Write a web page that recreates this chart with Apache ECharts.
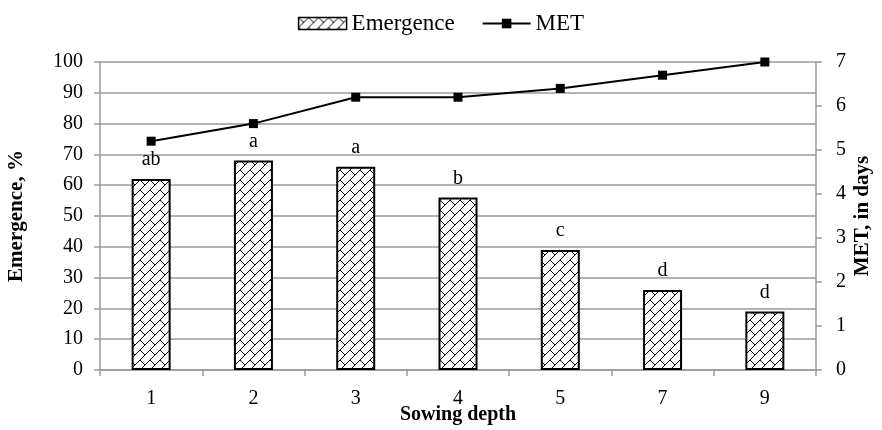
<!DOCTYPE html>
<html>
<head>
<meta charset="utf-8">
<script src="https://cdn.jsdelivr.net/npm/echarts@6/dist/echarts.min.js"></script>
<style>html,body{margin:0;padding:0;background:#fff}#c{width:882px;height:430px}</style>
</head>
<body>
<div id="c"></div>
<script>
const categories = ['1', '2', '3', '4', '5', '7', '9'];
const emergence = [62, 68, 66, 56, 39, 26, 19];
const met = [5.2, 5.6, 6.2, 6.2, 6.4, 6.7, 7.0];
const letters = ['ab', 'a', 'a', 'b', 'c', 'd', 'd'];

function makePattern() {
  const c = document.createElement('canvas');
  c.width = 10; c.height = 10;
  const ctx = c.getContext('2d');
  ctx.fillStyle = '#fff';
  ctx.fillRect(0, 0, 10, 10);
  ctx.strokeStyle = '#000';
  ctx.lineWidth = 1;
  ctx.beginPath();
  ctx.moveTo(-1, 11); ctx.lineTo(11, -1);
  ctx.moveTo(0, 0); ctx.lineTo(5, 5);
  ctx.stroke();
  return c;
}
const pattern = { image: makePattern(), repeat: 'repeat' };

const font = 'Liberation Serif';
const gray = '#9a9a9a';
const chart = echarts.init(document.getElementById('c'), null, { renderer: 'canvas' });
chart.setOption({
  animation: false,
  textStyle: { fontFamily: font, color: '#000' },
  legend: {
    top: 7,
    left: 'center',
    itemWidth: 48,
    itemHeight: 12,
    itemGap: 27,
    textStyle: { fontFamily: font, fontSize: 23, color: '#000' },
    data: [
      { name: 'Emergence', icon: 'rect', itemStyle: { color: pattern, borderColor: '#000', borderWidth: 1.5 } },
      { name: 'MET' }
    ]
  },
  grid: { left: 100, right: 66, top: 62, bottom: 60, containLabel: false, outerBoundsMode: 'none' },
  xAxis: {
    type: 'category',
    data: categories,
    name: 'Sowing depth',
    nameLocation: 'middle',
    nameGap: 35,
    nameMoveOverlap: false,
    nameTextStyle: { fontFamily: font, fontSize: 20, fontWeight: 'bold', color: '#000' },
    axisLine: { lineStyle: { color: gray, width: 1.5 } },
    axisTick: { show: true, length: 6, lineStyle: { color: gray, width: 1.5 } },
    axisLabel: { fontFamily: font, fontSize: 20, color: '#000', margin: 19 }
  },
  yAxis: [
    {
      type: 'value', min: 0, max: 100, interval: 10,
      name: 'Emergence, %',
      nameLocation: 'middle',
      nameRotate: 90,
      nameGap: 73,
      nameMoveOverlap: false,
      nameTextStyle: { fontFamily: font, fontSize: 21, fontWeight: 'bold', color: '#000' },
      axisLine: { show: true, lineStyle: { color: gray, width: 1.5 } },
      axisTick: { show: true, length: 6, lineStyle: { color: gray, width: 1.5 } },
      axisLabel: { fontFamily: font, fontSize: 20, color: '#000', margin: 17 },
      splitLine: { show: true, lineStyle: { color: gray, width: 1.5 } }
    },
    {
      type: 'value', min: 0, max: 7, interval: 1,
      name: 'MET, in days',
      nameLocation: 'middle',
      nameRotate: 90,
      nameGap: 36,
      nameMoveOverlap: false,
      nameTextStyle: { fontFamily: font, fontSize: 21, fontWeight: 'bold', color: '#000' },
      axisLine: { show: true, lineStyle: { color: gray, width: 1.5 } },
      axisTick: { show: true, length: 6, lineStyle: { color: gray, width: 1.5 } },
      axisLabel: { fontFamily: font, fontSize: 20, color: '#000', margin: 20 },
      splitLine: { show: false }
    }
  ],
  series: [
    {
      name: 'Emergence',
      type: 'bar',
      yAxisIndex: 0,
      barWidth: 39,
      data: emergence,
      itemStyle: { color: pattern, borderColor: '#000', borderWidth: 2 },
      label: {
        show: true,
        position: 'top',
        distance: 9,
        fontFamily: font,
        fontSize: 20,
        color: '#000',
        formatter: p => letters[p.dataIndex]
      }
    },
    {
      name: 'MET',
      type: 'line',
      yAxisIndex: 1,
      data: met,
      symbol: 'rect',
      symbolSize: 9,
      lineStyle: { color: '#000', width: 2 },
      itemStyle: { color: '#000' },
      z: 5
    }
  ]
});
</script>
</body>
</html>
